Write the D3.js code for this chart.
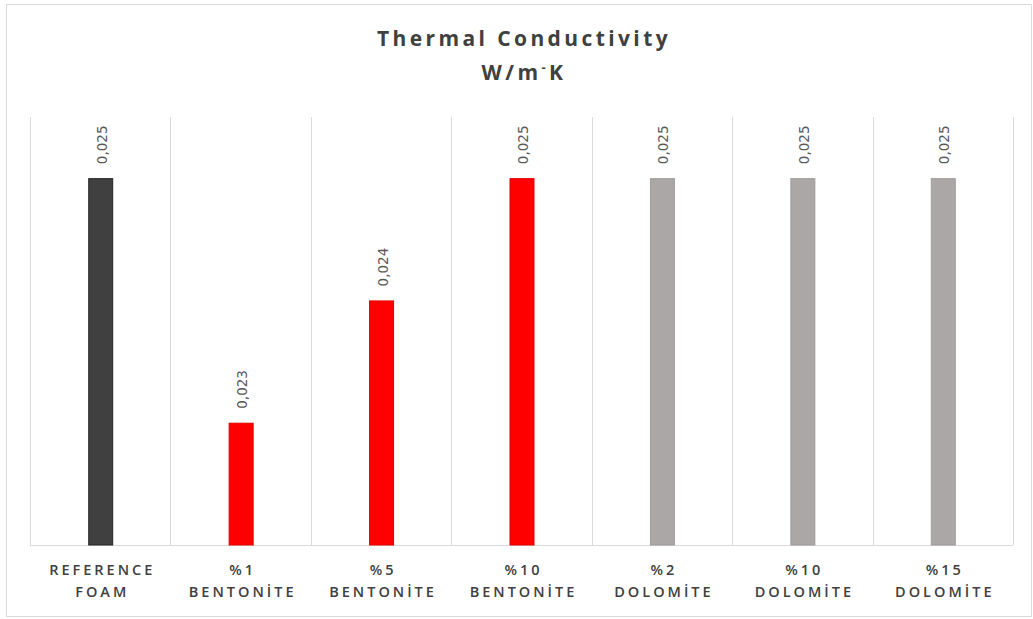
<!DOCTYPE html>
<html><head><meta charset="utf-8">
<script src="https://cdn.jsdelivr.net/npm/d3@7"></script>
<style>body{margin:0;background:#fff;}svg{display:block;}</style>
</head><body>
<svg id="c" width="1033" height="619"></svg>
<script>
const categories = [["REFERENCE","FOAM"],["%1","BENTONİTE"],["%5","BENTONİTE"],["%10","BENTONİTE"],["%2","DOLOMİTE"],["%10","DOLOMİTE"],["%15","DOLOMİTE"]];
const values = [0.0250, 0.0230, 0.0240, 0.0250, 0.0250, 0.0250, 0.0250];
const labels = ["0,025","0,023","0,024","0,025","0,025","0,025","0,025"];
const colors = ["#404040","#ff0000","#ff0000","#ff0000","#aba7a7","#aba7a7","#aba7a7"];
const strokes = ["#262626","#e00000","#e00000","#e00000","#a09c9c","#a09c9c","#a09c9c"];
const yDomain = [0.022, 0.0255];

(function(){
const svg = d3.select("#c");
svg.append("rect").attr("x",6.5).attr("y",4.5).attr("width",1025).attr("height",612)
  .attr("fill","#fff").attr("stroke","#d9d9d9");

const pL=30, pR=1013, pT=117, pB=545;
const x = d3.scaleBand().domain(d3.range(categories.length)).range([pL,pR]).paddingInner(0).paddingOuter(0);
const y = d3.scaleLinear().domain(yDomain).range([pB, pT]);

const g = svg.append("g");
d3.range(categories.length+1).forEach(i=>{
  const xx = Math.round(pL + i*x.bandwidth())+0.5;
  g.append("line").attr("x1",xx).attr("x2",xx).attr("y1",pT).attr("y2",pB).attr("stroke","#d9d9d9");
});
g.append("line").attr("x1",pL).attr("x2",pR).attr("y1",pB+0.5).attr("y2",pB+0.5).attr("stroke","#d9d9d9");

const bw = 25;
svg.append("g").selectAll("rect").data(values).join("rect")
  .attr("x",(d,i)=>x(i)+x.bandwidth()/2-bw/2+1)
  .attr("y",d=>y(d)+0.5)
  .attr("width",bw-1)
  .attr("height",d=>pB-y(d)-0.5)
  .attr("fill",(d,i)=>colors[i])
  .attr("stroke",(d,i)=>strokes[i]).attr("stroke-width",1);

svg.append("g").selectAll("text").data(values).join("text")
  .attr("transform",(d,i)=>`translate(${x(i)+x.bandwidth()/2+6.5},${y(d)-14}) rotate(-90)`)
  .attr("font-family","'DejaVu Sans', sans-serif")
  .attr("font-size",13.5).attr("fill","#595959")
  .text((d,i)=>labels[i]);

const xl = svg.append("g");
categories.forEach((c,i)=>{
  c.forEach((line,j)=>{
    xl.append("text").attr("x",x(i)+x.bandwidth()/2+2).attr("y",575+j*22)
      .attr("text-anchor","middle")
      .attr("font-family","'Open Sans', sans-serif").attr("font-size",14.5)
      .attr("font-weight",600)
      .attr("letter-spacing","3px")
      .attr("fill","#404040").text(line);
  });
});

const t = svg.append("text").attr("text-anchor","middle")
  .attr("font-family","'Open Sans', sans-serif").attr("font-weight",700)
  .attr("font-size",21).attr("letter-spacing","3.4px").attr("fill","#404040");
t.append("tspan").attr("x",524).attr("y",46).text("Thermal Conductivity");
const t2 = t.append("tspan").attr("x",524).attr("y",80);
t2.text("W/m");
t.append("tspan").attr("dy",-8).attr("font-size",13).text("-");
t.append("tspan").attr("dy",8).text("K");
})();
</script>
</body></html>
